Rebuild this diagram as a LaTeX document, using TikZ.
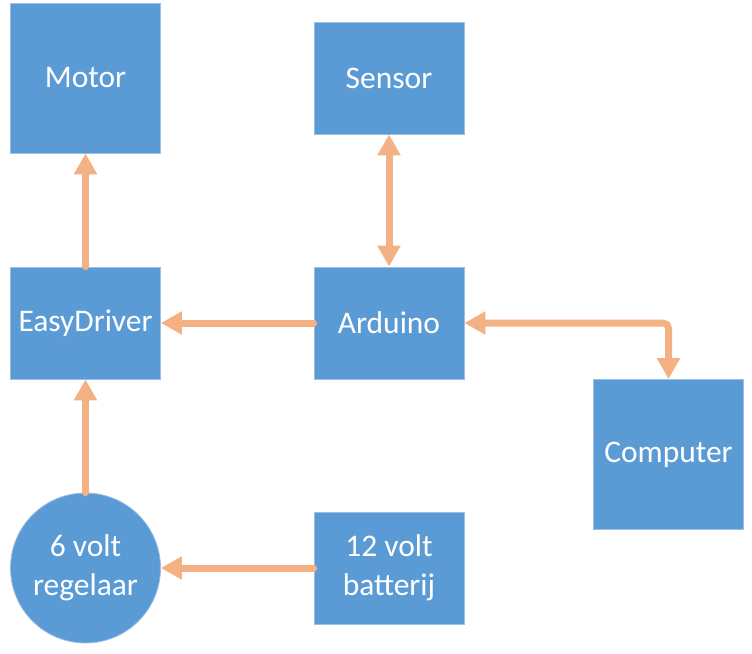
\documentclass[tikz,border=0pt]{standalone}
\usepackage{fontspec}
\setmainfont{Carlito}
\usepackage{xcolor}
\usetikzlibrary{
    arrows.meta,
    positioning
}

\definecolor{boxblue}{HTML}{5B9BD5}
\definecolor{boxedge}{HTML}{9DBFE3}
\definecolor{wireorange}{HTML}{F4B183}

\tikzset{
    block/.style={rectangle, fill=boxblue, draw=boxedge, line width=0.6pt,
        text=white, align=center, inner sep=0pt,
        minimum width=112.5pt, minimum height=84pt,
        font=\fontsize{23.6}{29}\selectfont},
    bigblock/.style={block, minimum height=112.5pt},
    roundblock/.style={block, circle, minimum size=112.5pt},
    flow/.style={wireorange, line width=5.25pt, line cap=round,
        -{Triangle[length=15.75pt, width=16.5pt]}},
    twoway/.style={flow, {Triangle[length=15.75pt, width=16.5pt]}-{Triangle[length=15.75pt, width=16.5pt]}}
}

\begin{document}
\begin{tikzpicture}[x=0.75pt, y=-0.75pt]
                        \useasboundingbox (0, 0) rectangle (752, 653);

                        \node[bigblock] (motor) at (85.5, 78) {Motor};
                        \node[block] (sensor) at (389, 78) {Sensor};
                        \node[block] (easy) at (85.5, 323) {EasyDriver};
                        \node[block] (arduino) at (389, 323) {Arduino};
                        \node[bigblock] (computer) at (668.5, 454.5) {Computer};
                        \node[roundblock] (regel) at (85.5, 568) {6 volt\\regelaar};
                        \node[block] (batt) at (389, 568) {12 volt\\batterij};

                        \draw
                        (easy) edge[flow] (motor)
                        (sensor) edge[twoway] (arduino)
                        (arduino) edge[flow] (easy)
                        (regel) edge[flow] (easy)
                        (batt) edge[flow] (regel);

                        \draw[twoway, rounded corners=4pt] (arduino.east) -| (computer.north);
                    \end{tikzpicture}
\end{document}
